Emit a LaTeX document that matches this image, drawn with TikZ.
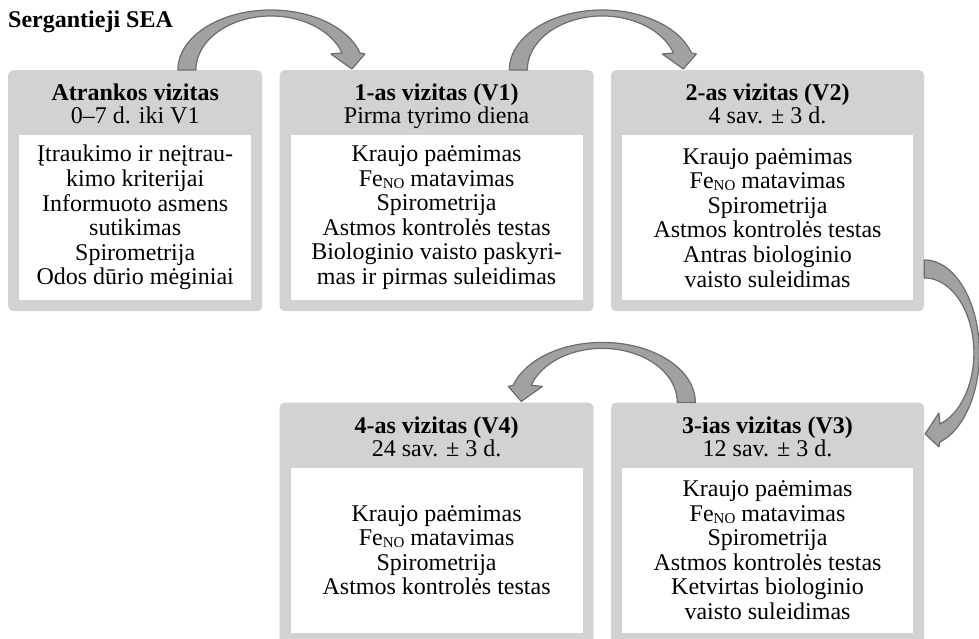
\documentclass[tikz,border=0pt]{standalone}
\usepackage{fontspec}
\setmainfont{Liberation Serif}
\usetikzlibrary{positioning,calc}

\definecolor{boxgray}{RGB}{209,210,212}
\definecolor{bowfill}{RGB}{160,161,163}
\definecolor{bowline}{RGB}{108,109,111}

\newcommand\feno{Fe\raisebox{-2pt}{\fontsize{15}{15}\selectfont NO}}

\tikzset{
  visit/.style={fill=boxgray, rounded corners=5pt, minimum height=241pt, inner sep=0pt},
  inbox/.style={fill=white, minimum height=165pt, inner sep=0pt, align=center,
    font=\fontsize{24}{24.6}\selectfont},
  hdr/.style={align=center, inner sep=0pt, font=\fontsize{24}{23}\selectfont},
  bow/.style={fill=bowfill, draw=bowline, line width=1.2pt, line join=round}
}

\newcommand\bowarrow{%
  \draw[bow] (-93,0) arc[start angle=180, end angle=16.5, x radius=93, y radius=60]
    -- (94,16) -- (81,1) -- (60,16)
    -- (71.16,17.05) arc[start angle=18.4, end angle=180, x radius=75, y radius=54] -- cycle;}

\begin{document}
\begin{tikzpicture}[x=1pt, y=1pt]
    \path[use as bounding box] (0,0) rectangle (979,638);
    \clip (0,0) rectangle (979,638);
    \node[anchor=base west, inner sep=0pt, font=\fontsize{24}{24}\selectfont\bfseries] (grp) at (8,610) {Sergantieji SEA};

    \node[visit, minimum width=254pt, anchor=north west] (atr) at (8,568) {};
    \node[visit, minimum width=314pt, right=17pt of atr] (v1) {};
    \node[visit, minimum width=313pt, right=17pt of v1] (v2) {};
    \node[visit, minimum width=313pt, below=91pt of v2] (v3) {};
    \node[visit, minimum width=314pt, left=17pt of v3] (v4) {};

    \node[hdr, anchor=north] (atrh) at ($(atr.north)+(0,-14)$) {\textbf{Atrankos vizitas}\\0–7 d. iki V1};
    \node[hdr, anchor=north] (v1h) at ($(v1.north)+(0,-14)$) {\textbf{1-as vizitas (V1)}\\Pirma tyrimo diena};
    \node[hdr, anchor=north] (v2h) at ($(v2.north)+(0,-14)$) {\textbf{2-as vizitas (V2)}\\4 sav. ± 3 d.};
    \node[hdr, anchor=north] (v3h) at ($(v3.north)+(0,-14)$) {\textbf{3-ias vizitas (V3)}\\12 sav. ± 3 d.};
    \node[hdr, anchor=north] (v4h) at ($(v4.north)+(0,-14)$) {\textbf{4-as vizitas (V4)}\\24 sav. ± 3 d.};

    \node[inbox, minimum width=232pt, anchor=south] (atrb) at ($(atr.south)+(0,11)$)
      {Įtraukimo ir neįtrau-\\kimo kriterijai\\Informuoto asmens\\sutikimas\\Spirometrija\\Odos dūrio mėginiai};
    \node[inbox, minimum width=292pt, anchor=south] (v1b) at ($(v1.south)+(0,11)$)
      {Kraujo paėmimas\\\feno{} matavimas\\Spirometrija\\Astmos kontrolės testas\\Biologinio vaisto paskyri-\\mas ir pirmas suleidimas};
    \node[inbox, minimum width=291pt, anchor=south] (v2b) at ($(v2.south)+(0,11)$)
      {Kraujo paėmimas\\\feno{} matavimas\\Spirometrija\\Astmos kontrolės testas\\Antras biologinio\\vaisto suleidimas};
    \node[inbox, minimum width=291pt, anchor=south] (v3b) at ($(v3.south)+(0,11)$)
      {Kraujo paėmimas\\\feno{} matavimas\\Spirometrija\\Astmos kontrolės testas\\Ketvirtas biologinio\\vaisto suleidimas};
    \node[inbox, minimum width=292pt, anchor=south] (v4b) at ($(v4.south)+(0,11)$)
      {Kraujo paėmimas\\\feno{} matavimas\\Spirometrija\\Astmos kontrolės testas};

    \begin{scope}[shift={($(atr.north east)!0.5!(v1.north west)$)}]
      \bowarrow
    \end{scope}
    \begin{scope}[shift={($(v1.north east)!0.5!(v2.north west)$)}]
      \bowarrow
    \end{scope}
    \begin{scope}[shift={($(v2.south east)!0.5!(v3.north east)+(0,4)$)}, rotate=-90, yscale=0.92]
      \bowarrow
    \end{scope}
    \begin{scope}[shift={($(v4.north east)!0.5!(v3.north west)$)}, xscale=-1]
      \bowarrow
    \end{scope}
\end{tikzpicture}
\end{document}
